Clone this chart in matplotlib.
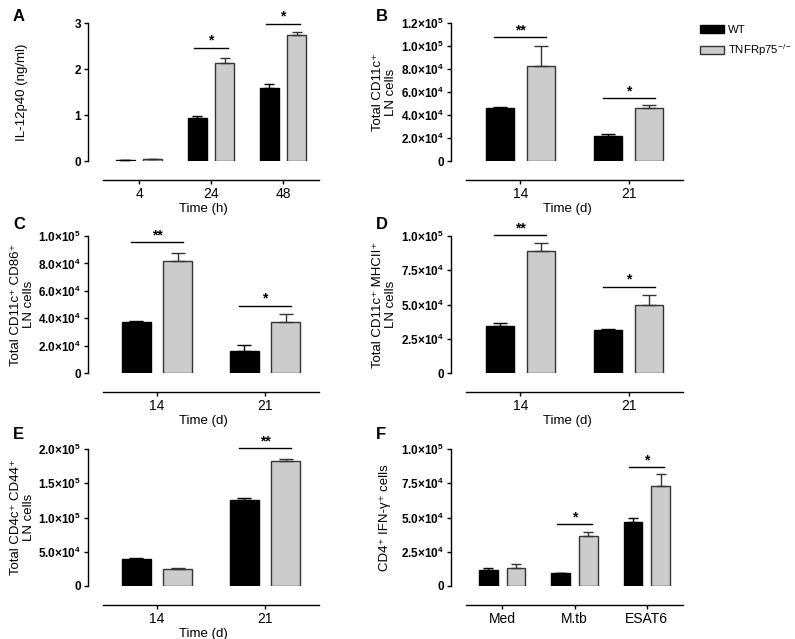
import matplotlib
matplotlib.use("Agg")
import matplotlib.pyplot as plt
from matplotlib.patches import Patch
from matplotlib.ticker import FuncFormatter

plt.rcParams["font.family"] = ["Liberation Sans", "DejaVu Sans"]
plt.rcParams["mathtext.fontset"] = "custom"
plt.rcParams["mathtext.rm"] = "Liberation Sans"
plt.rcParams["mathtext.bf"] = "Liberation Sans:bold"

# ---- Daten ----
# A: IL-12p40
a_groups = ["4", "24", "48"]
a_wt = [0.02, 0.94, 1.58]
a_wt_err = [0.005, 0.03, 0.09]
a_ko = [0.035, 2.14, 2.74]
a_ko_err = [0.01, 0.10, 0.06]
a_sig_idx = [1, 2]
a_sig_y = [2.46, 2.98]
a_sig_txt = ["*", "*"]

# B: CD11c+
b_groups = ["14", "21"]
b_wt = [0.458e5, 0.215e5]
b_wt_err = [0.012e5, 0.022e5]
b_ko = [0.829e5, 0.458e5]
b_ko_err = [0.174e5, 0.029e5]
b_sig_idx = [0, 1]
b_sig_y = [1.078e5, 0.548e5]
b_sig_txt = ["**", "*"]

# C: CD11c+ CD86+
c_groups = ["14", "21"]
c_wt = [0.37e5, 0.163e5]
c_wt_err = [0.012e5, 0.039e5]
c_ko = [0.82e5, 0.372e5]
c_ko_err = [0.054e5, 0.061e5]
c_sig_idx = [0, 1]
c_sig_y = [0.956e5, 0.49e5]
c_sig_txt = ["**", "*"]

# D: CD11c+ MHCII+
d_groups = ["14", "21"]
d_wt = [0.343e5, 0.317e5]
d_wt_err = [0.019e5, 0.007e5]
d_ko = [0.889e5, 0.495e5]
d_ko_err = [0.062e5, 0.077e5]
d_sig_idx = [0, 1]
d_sig_y = [1.007e5, 0.628e5]
d_sig_txt = ["**", "*"]

# E: CD4+ CD44+
e_groups = ["14", "21"]
e_wt = [0.394e5, 1.251e5]
e_wt_err = [0.019e5, 0.029e5]
e_ko = [0.248e5, 1.829e5]
e_ko_err = [0.02e5, 0.025e5]
e_sig_idx = [1]
e_sig_y = [2.01e5]
e_sig_txt = ["**"]

# F: CD4+ IFN-g+
f_groups = ["Med", "M.tb", "ESAT6"]
f_wt = [0.115e5, 0.098e5, 0.466e5]
f_wt_err = [0.017e5, 0.0, 0.029e5]
f_ko = [0.13e5, 0.363e5, 0.73e5]
f_ko_err = [0.032e5, 0.034e5, 0.091e5]
f_sig_idx = [1, 2]
f_sig_y = [0.449e5, 0.868e5]
f_sig_txt = ["*", "*"]

W, H = 795, 639


def sci_fmt(v, pos):
    if v == 0:
        return "0"
    exp = len(str(int(v))) - 1
    mant = v / 10 ** exp
    return f"{mant:.1f}×10" + "$^{\\mathbf{" + str(exp) + "}}$"


def int_fmt(v, pos):
    return f"{v:g}"


def draw_panel(fig, rect, groups, wt, wt_err, ko, ko_err, ymax, ystep,
               sig_idx, sig_y, sig_txt, ylabel, xlabel, sci=True, bold_x=True):
    l, t, r, b = rect
    ax = fig.add_axes([l / W, 1 - b / H, (r - l) / W, (b - t) / H])
    n = len(groups)
    x = list(range(n))
    w = 0.26
    off = 0.19
    cap = 3.5 if n == 3 else 5
    ax.bar([i - off for i in x], wt, width=w, color="black", edgecolor="black",
           linewidth=1.0, zorder=2)
    ax.bar([i + off for i in x], ko, width=w, color="#cccccc", edgecolor="#333333",
           linewidth=1.0, zorder=2)
    ax.errorbar([i - off for i in x], wt, yerr=[[0] * n, wt_err], fmt="none",
                ecolor="black", elinewidth=1.0, capsize=cap, capthick=1.0, zorder=3)
    ax.errorbar([i + off for i in x], ko, yerr=[[0] * n, ko_err], fmt="none",
                ecolor="#333333", elinewidth=1.0, capsize=cap, capthick=1.0, zorder=3)

    # Signifikanz-Balken
    for i, y, s in zip(sig_idx, sig_y, sig_txt):
        ax.plot([i - off - 0.05, i + off + 0.05], [y, y], color="black", lw=1.0,
                clip_on=False)
        ax.annotate(s, (i, y), xytext=(0, 0), textcoords="offset points",
                    ha="center", va="bottom", fontsize=10, fontweight="bold",
                    annotation_clip=False)

    ax.set_xlim(-0.5 - 15 / ((r - l - 15) / n), n - 0.5)
    ax.set_ylim(0, ymax)
    ticks = [k * ystep for k in range(int(round(ymax / ystep)) + 1)]
    ax.set_yticks(ticks)
    ax.yaxis.set_major_formatter(FuncFormatter(sci_fmt if sci else int_fmt))
    ax.set_xticks(x)
    ax.set_xticklabels(groups, fontweight="bold" if bold_x else "normal",
                       fontsize=9 if bold_x else 9.5)
    for lab in ax.get_yticklabels():
        lab.set_fontweight("bold")
        lab.set_fontsize(8.5)

    ax.spines["top"].set_visible(False)
    ax.spines["right"].set_visible(False)
    ax.spines["bottom"].set_position(("outward", 14))
    ax.spines["bottom"].set_bounds(-0.5, n - 0.5)
    for sp in ("left", "bottom"):
        ax.spines[sp].set_linewidth(1.0)
    ax.tick_params(axis="y", length=3, width=1.0, pad=2)
    ax.tick_params(axis="x", length=3, width=1.0, pad=2)

    ax.set_ylabel(ylabel, fontsize=9.5, linespacing=1.1, va="center")
    ax.yaxis.set_label_coords(-0.285, 0.5)
    if xlabel:
        ax.set_xlabel(xlabel, fontsize=9.5, labelpad=1)
    return ax


fig = plt.figure(figsize=(W / 100, H / 100), dpi=100)

LC = (88, 319)
RC = (451, 683)
R1 = (23, 161)
R2 = (236, 373)
R3 = (449, 586)

draw_panel(fig, (LC[0], R1[0], LC[1], R1[1]), a_groups, a_wt, a_wt_err, a_ko, a_ko_err,
           3, 1, a_sig_idx, a_sig_y, a_sig_txt, "IL-12p40 (ng/ml)", "Time (h)", sci=False)
draw_panel(fig, (RC[0], R1[0], RC[1], R1[1]), b_groups, b_wt, b_wt_err, b_ko, b_ko_err,
           1.2e5, 2e4, b_sig_idx, b_sig_y, b_sig_txt, "Total CD11c⁺\nLN cells", "Time (d)")
draw_panel(fig, (LC[0], R2[0], LC[1], R2[1]), c_groups, c_wt, c_wt_err, c_ko, c_ko_err,
           1e5, 2e4, c_sig_idx, c_sig_y, c_sig_txt, "Total CD11c⁺ CD86⁺\nLN cells", "Time (d)")
draw_panel(fig, (RC[0], R2[0], RC[1], R2[1]), d_groups, d_wt, d_wt_err, d_ko, d_ko_err,
           1e5, 2.5e4, d_sig_idx, d_sig_y, d_sig_txt, "Total CD11c⁺ MHCII⁺\nLN cells", "Time (d)")
draw_panel(fig, (LC[0], R3[0], LC[1], R3[1]), e_groups, e_wt, e_wt_err, e_ko, e_ko_err,
           2e5, 5e4, e_sig_idx, e_sig_y, e_sig_txt, "Total CD4c⁺ CD44⁺\nLN cells", "Time (d)")
draw_panel(fig, (RC[0], R3[0], RC[1], R3[1]), f_groups, f_wt, f_wt_err, f_ko, f_ko_err,
           1e5, 2.5e4, f_sig_idx, f_sig_y, f_sig_txt, "CD4⁺ IFN-γ⁺ cells", None, bold_x=False)

# Panelbuchstaben
for letter, px, py in [("A", 13, 9), ("B", 376, 9), ("C", 13, 217),
                       ("D", 376, 217), ("E", 13, 427), ("F", 376, 427)]:
    fig.text(px / W, 1 - py / H, letter, fontsize=12, fontweight="bold",
             ha="left", va="top")

# Legende
fig.legend(handles=[Patch(facecolor="black", edgecolor="black"),
                    Patch(facecolor="#cccccc", edgecolor="#333333")],
           labels=["WT", "TNFRp75$^{-/-}$"], loc="upper left",
           bbox_to_anchor=(700 / W, 1 - 25 / H), frameon=False, fontsize=8.2,
           handlelength=2.1, handleheight=0.7, handletextpad=0.35,
           labelspacing=0.65, borderpad=0, borderaxespad=0)

fig.savefig("out.png", dpi=100)
